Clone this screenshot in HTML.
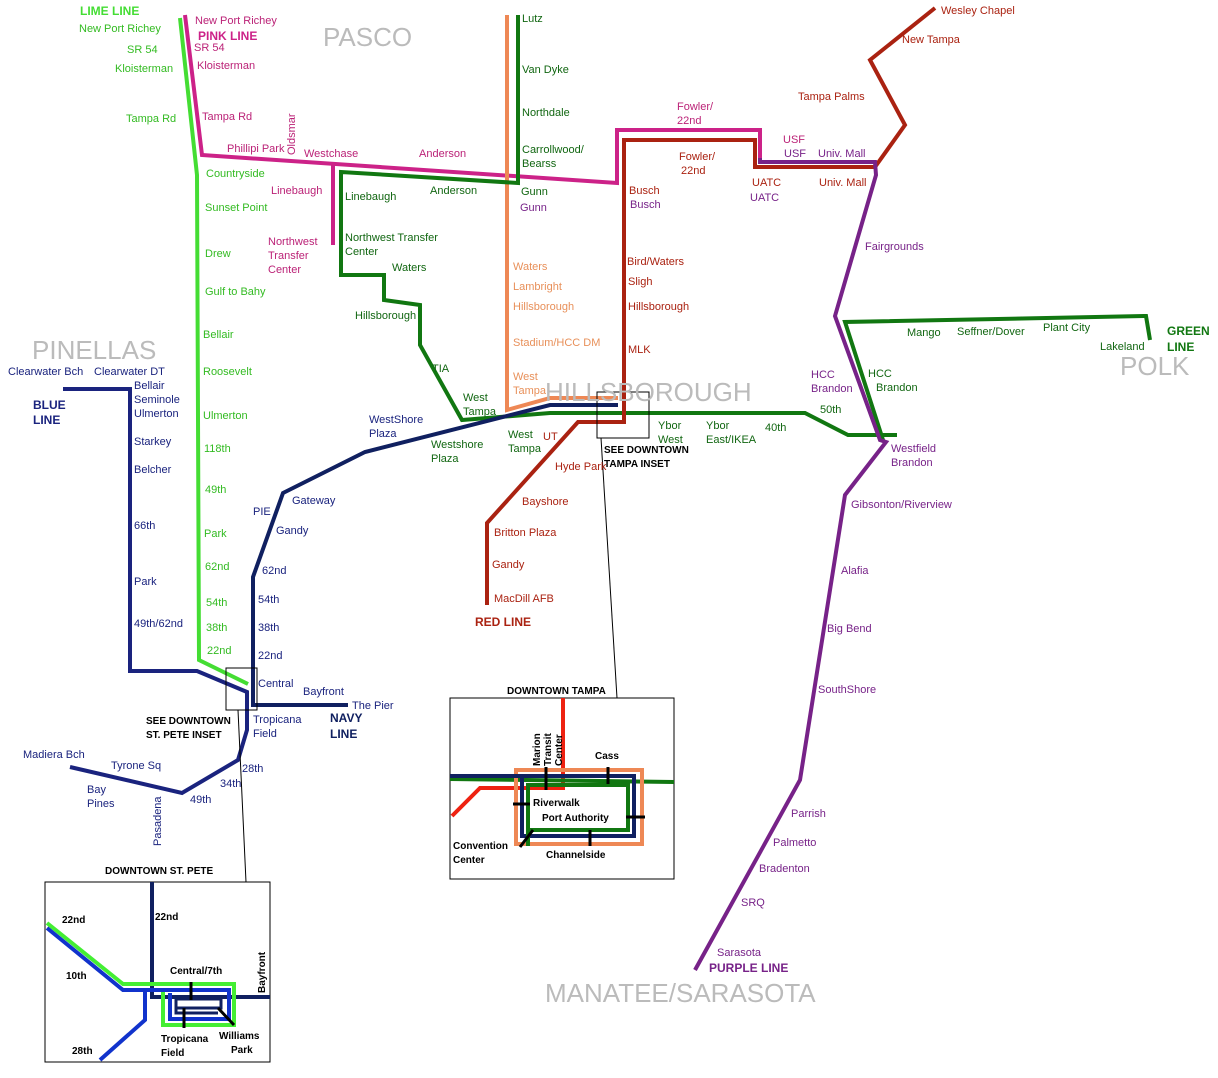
<!DOCTYPE html>
<html><head><meta charset="utf-8"><style>
body{margin:0;background:#fff;}
svg{display:block;font-family:"Liberation Sans",sans-serif;}
.s{font-size:11px;}
.r{font-size:26px;fill:#bbb;}
.b{font-size:12px;font-weight:bold;}
.bs{font-size:10px;font-weight:bold;}
</style></head><body>
<svg width="1218" height="1078" viewBox="0 0 1218 1078">
<g fill="none" stroke-linejoin="miter">
<!-- lime -->
<polyline points="180,18 197,175 199,660 248,684" stroke="#44dd33" stroke-width="4"/>
<!-- pink -->
<polyline points="185,15 202,155 617,183 617,130 760,130 760,158" stroke="#cc2288" stroke-width="4"/>
<polyline points="333,163 333,245" stroke="#cc2288" stroke-width="4"/>
<!-- orange -->
<polyline points="507,15 507,410 550,398 618,398" stroke="#ee8855" stroke-width="4"/>
<!-- green -->
<polyline points="518,15 518,183 341,172 341,275 384,275 384,300 420,305 420,345 462,420 550,413 805,413 848,435 897,435" stroke="#117711" stroke-width="4"/>
<polyline points="1150,340 1146,316 845,322 883,440" stroke="#117711" stroke-width="4"/>
<!-- red -->
<polyline points="487,605 487,523 578,422 624,422 624,140 755,140 755,167 875,167 905,125 870,60 935,8" stroke="#aa2211" stroke-width="4"/>
<!-- purple -->
<polyline points="760,158 760,162 875,162 876,175 835,316 880,440 886,442 845,495 800,780 695,970" stroke="#772288" stroke-width="4"/>
<!-- blue/navy -->
<polyline points="63,389 130,389 130,671 197,671 247,692 247,730 238,760 182,793 70,767" stroke="#1a237e" stroke-width="4"/>
<polyline points="618,405 550,405 365,452 283,493 253,577 253,705 348,705" stroke="#102060" stroke-width="4"/>
</g>
<!-- inset boxes -->
<g fill="none" stroke="#000" stroke-width="1">
<rect x="226" y="668" width="31" height="42"/>
<line x1="238" y1="710" x2="246" y2="882"/>
<rect x="597" y="392" width="52" height="46"/>
<line x1="601" y1="438" x2="617" y2="698"/>
<rect x="45" y="882" width="225" height="180"/>
<rect x="450" y="698" width="224" height="181"/>
</g>
<!-- region labels -->
<text class="r" x="323" y="46">PASCO</text>
<text class="r" x="32" y="359">PINELLAS</text>
<text class="r" x="545" y="401">HILLSBOROUGH</text>
<text class="r" x="1120" y="375">POLK</text>
<text class="r" x="545" y="1002">MANATEE/SARASOTA</text>
<!-- line names -->
<text class="b" x="80" y="15" fill="#44dd33">LIME LINE</text>
<text class="b" x="198" y="40" fill="#cc2288">PINK LINE</text>
<text class="b" x="33" y="409" fill="#1a237e">BLUE</text><text class="b" x="33" y="424" fill="#1a237e">LINE</text>
<text class="b" x="330" y="722" fill="#102060">NAVY</text><text class="b" x="330" y="738" fill="#102060">LINE</text>
<text class="b" x="475" y="626" fill="#aa2211">RED LINE</text>
<text class="b" x="1167" y="335" fill="#117711">GREEN</text><text class="b" x="1167" y="351" fill="#117711">LINE</text>
<text class="b" x="709" y="972" fill="#772288">PURPLE LINE</text>
<!-- lime stations -->
<g class="s" fill="#33bb22">
<text x="79" y="32">New Port Richey</text><text x="127" y="53">SR 54</text><text x="115" y="72">Kloisterman</text><text x="126" y="122">Tampa Rd</text>
<text x="206" y="177">Countryside</text><text x="205" y="211">Sunset Point</text><text x="205" y="257">Drew</text><text x="205" y="295">Gulf to Bahy</text>
<text x="203" y="338">Bellair</text><text x="203" y="375">Roosevelt</text><text x="203" y="419">Ulmerton</text><text x="204" y="452">118th</text>
<text x="205" y="493">49th</text><text x="204" y="537">Park</text><text x="205" y="570">62nd</text><text x="206" y="606">54th</text><text x="206" y="631">38th</text><text x="207" y="654">22nd</text>
</g>
<!-- pink stations -->
<g class="s" fill="#bb2277">
<text x="195" y="24">New Port Richey</text><text x="194" y="51">SR 54</text><text x="197" y="69">Kloisterman</text><text x="202" y="120">Tampa Rd</text>
<text x="227" y="152">Phillipi Park</text><text x="304" y="157">Westchase</text><text x="419" y="157">Anderson</text>
<text x="271" y="194">Linebaugh</text><text x="268" y="245">Northwest</text><text x="268" y="259">Transfer</text><text x="268" y="273">Center</text>
<text x="295" y="155" transform="rotate(-90 295 155)">Oldsmar</text>
<text x="677" y="110">Fowler/</text><text x="677" y="124">22nd</text><text x="783" y="143">USF</text>
</g>
<!-- green stations -->
<g class="s" fill="#116611">
<text x="522" y="22">Lutz</text><text x="522" y="73">Van Dyke</text><text x="522" y="116">Northdale</text><text x="522" y="153">Carrollwood/</text><text x="522" y="167">Bearss</text>
<text x="521" y="195">Gunn</text><text x="430" y="194">Anderson</text><text x="345" y="200">Linebaugh</text>
<text x="345" y="241">Northwest Transfer</text><text x="345" y="255">Center</text><text x="392" y="271">Waters</text><text x="355" y="319">Hillsborough</text>
<text x="432" y="372">TIA</text><text x="463" y="401">West</text><text x="463" y="415">Tampa</text><text x="431" y="448">Westshore</text><text x="431" y="462">Plaza</text>
<text x="508" y="438">West</text><text x="508" y="452">Tampa</text><text x="658" y="429">Ybor</text><text x="658" y="443">West</text>
<text x="706" y="429">Ybor</text><text x="706" y="443">East/IKEA</text><text x="765" y="431">40th</text><text x="820" y="413">50th</text>
<text x="868" y="377">HCC</text><text x="876" y="391">Brandon</text>
<text x="907" y="336">Mango</text><text x="957" y="335">Seffner/Dover</text><text x="1043" y="331">Plant City</text><text x="1100" y="350">Lakeland</text>
</g>
<!-- orange -->
<g class="s" fill="#e8905a">
<text x="513" y="270">Waters</text><text x="513" y="290">Lambright</text><text x="513" y="310">Hillsborough</text><text x="513" y="346">Stadium/HCC DM</text>
<text x="513" y="380">West</text><text x="513" y="394">Tampa</text>
</g>
<!-- red -->
<g class="s" fill="#aa2211">
<text x="941" y="14">Wesley Chapel</text><text x="902" y="43">New Tampa</text><text x="798" y="100">Tampa Palms</text>
<text x="679" y="160">Fowler/</text><text x="681" y="174">22nd</text><text x="752" y="186">UATC</text><text x="819" y="186">Univ. Mall</text>
<text x="629" y="194">Busch</text><text x="627" y="265">Bird/Waters</text><text x="628" y="285">Sligh</text><text x="628" y="310">Hillsborough</text><text x="628" y="353">MLK</text>
<text x="543" y="440">UT</text><text x="555" y="470">Hyde Park</text><text x="522" y="505">Bayshore</text><text x="494" y="536">Britton Plaza</text><text x="492" y="568">Gandy</text><text x="494" y="602">MacDill AFB</text>
</g>
<!-- purple -->
<g class="s" fill="#772288">
<text x="784" y="157">USF</text><text x="818" y="157">Univ. Mall</text><text x="630" y="208">Busch</text><text x="750" y="201">UATC</text>
<text x="865" y="250">Fairgrounds</text><text x="811" y="378">HCC</text><text x="811" y="392">Brandon</text>
<text x="891" y="452">Westfield</text><text x="891" y="466">Brandon</text><text x="851" y="508">Gibsonton/Riverview</text>
<text x="841" y="574">Alafia</text><text x="827" y="632">Big Bend</text><text x="818" y="693">SouthShore</text>
<text x="791" y="817">Parrish</text><text x="773" y="846">Palmetto</text><text x="759" y="872">Bradenton</text><text x="741" y="906">SRQ</text><text x="717" y="956">Sarasota</text>
<text x="520" y="211">Gunn</text>
</g>
<!-- blue / navy -->
<g class="s" fill="#1a237e">
<text x="8" y="375">Clearwater Bch</text><text x="94" y="375">Clearwater DT</text>
<text x="134" y="389">Bellair</text><text x="134" y="403">Seminole</text><text x="134" y="417">Ulmerton</text><text x="134" y="445">Starkey</text><text x="134" y="473">Belcher</text>
<text x="134" y="529">66th</text><text x="134" y="585">Park</text><text x="134" y="627">49th/62nd</text>
<text x="369" y="423">WestShore</text><text x="369" y="437">Plaza</text><text x="292" y="504">Gateway</text><text x="253" y="515">PIE</text><text x="276" y="534">Gandy</text>
<text x="262" y="574">62nd</text><text x="258" y="603">54th</text><text x="258" y="631">38th</text><text x="258" y="659">22nd</text><text x="258" y="687">Central</text>
<text x="303" y="695">Bayfront</text><text x="352" y="709">The Pier</text><text x="253" y="723">Tropicana</text><text x="253" y="737">Field</text>
<text x="242" y="772">28th</text><text x="220" y="787">34th</text><text x="190" y="803">49th</text><text x="23" y="758">Madiera Bch</text><text x="111" y="769">Tyrone Sq</text>
<text x="87" y="793">Bay</text><text x="87" y="807">Pines</text>
<text x="161" y="846" transform="rotate(-90 161 846)">Pasadena</text>
</g>
<g class="bs" fill="#000">
<text x="146" y="724">SEE DOWNTOWN</text><text x="146" y="738">ST. PETE INSET</text>
<text x="604" y="453">SEE DOWNTOWN</text><text x="604" y="467">TAMPA INSET</text>
<text x="507" y="694">DOWNTOWN TAMPA</text><text x="105" y="874">DOWNTOWN ST. PETE</text>
</g>
<!-- Downtown Tampa inset -->
<g fill="none">
<polyline points="563,698 563,788 480,788 452,816" stroke="#ee2211" stroke-width="4"/>
<polyline points="450,779 674,782" stroke="#117711" stroke-width="4"/>
<rect x="516" y="770" width="126" height="74" stroke="#ee8855" stroke-width="4"/>
<polyline points="450,776 634,776 634,836 522,836 522,776" stroke="#102060" stroke-width="4"/>
<polyline points="528,846 528,785 628,785 628,830 530,830" stroke="#117711" stroke-width="4"/>
<g stroke="#000" stroke-width="3">
<line x1="546" y1="767" x2="546" y2="790"/><line x1="608" y1="767" x2="608" y2="784"/>
<line x1="513" y1="804" x2="530" y2="804"/><line x1="626" y1="817" x2="645" y2="817"/>
<line x1="590" y1="830" x2="590" y2="846"/><line x1="533" y1="830" x2="520" y2="847"/>
</g>
</g>
<g class="bs" fill="#000">
<text x="540" y="766" transform="rotate(-90 540 766)">Marion</text>
<text x="551" y="766" transform="rotate(-90 551 766)">Transit</text>
<text x="562" y="766" transform="rotate(-90 562 766)">Center</text>
<text x="595" y="759">Cass</text><text x="533" y="806">Riverwalk</text><text x="542" y="821">Port Authority</text>
<text x="453" y="849">Convention</text><text x="453" y="863">Center</text><text x="546" y="858">Channelside</text>
</g>
<!-- Downtown St Pete inset -->
<g fill="none">
<polyline points="152,882 152,997 270,997" stroke="#102060" stroke-width="4"/>
<polyline points="47,923 123,984 234,984 234,1025 163,1025 163,988" stroke="#44ee33" stroke-width="4"/>
<polyline points="47,928 123,990 229,990 229,1019 170,1019 170,993" stroke="#1133cc" stroke-width="4"/>
<polyline points="145,990 145,1020 100,1060" stroke="#1133cc" stroke-width="4"/>
<polyline points="176,1008 221,1008 221,999 176,999 176,1013 218,1013" stroke="#102060" stroke-width="3"/>
<g stroke="#000" stroke-width="3">
<line x1="191" y1="982" x2="191" y2="1000"/><line x1="184" y1="1008" x2="184" y2="1028"/><line x1="218" y1="1008" x2="234" y2="1025"/>
</g>
</g>
<g class="bs" fill="#000">
<text x="62" y="923">22nd</text><text x="155" y="920">22nd</text><text x="66" y="979">10th</text><text x="170" y="974">Central/7th</text>
<text x="72" y="1054">28th</text><text x="161" y="1042">Tropicana</text><text x="161" y="1056">Field</text><text x="219" y="1039">Williams</text><text x="231" y="1053">Park</text>
<text x="265" y="993" transform="rotate(-90 265 993)">Bayfront</text>
</g>
</svg>
</body></html>
